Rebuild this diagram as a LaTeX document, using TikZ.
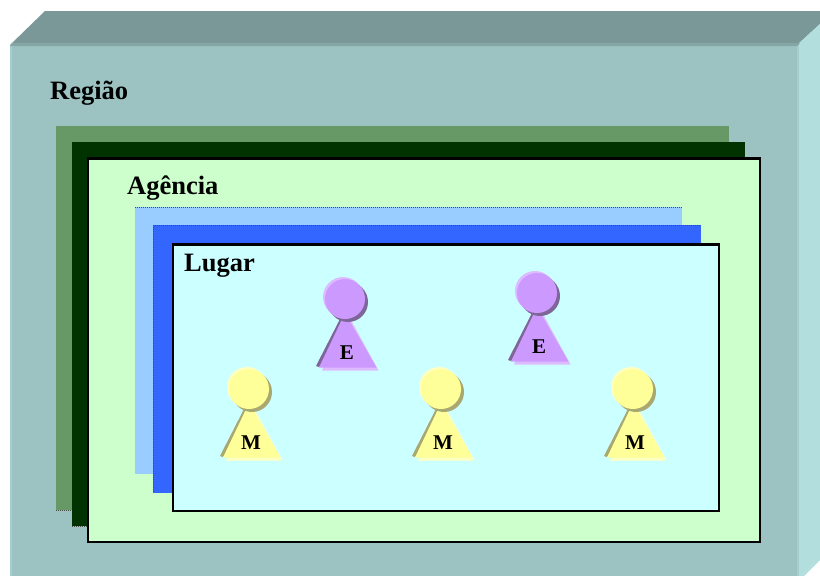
\documentclass[tikz,border=0pt]{standalone}
\usepackage{fontspec}
\setmainfont{Liberation Serif}
\definecolor{front}{HTML}{9CC2C2}
\definecolor{topf}{HTML}{7A9898}
\definecolor{rightf}{HTML}{B3DEDE}
\definecolor{edgeL}{HTML}{A6CECE}
\definecolor{edgeT}{HTML}{86A6A6}
\definecolor{pM}{HTML}{FFFF99}
\definecolor{pMl}{HTML}{FFFFC2}
\definecolor{pMd}{HTML}{A8A870}
\definecolor{pE}{HTML}{CC99FF}
\definecolor{pEl}{HTML}{DDBBFF}
\definecolor{pEd}{HTML}{7F6699}
\definecolor{greenA}{HTML}{669966}
\definecolor{greenB}{HTML}{003300}
\definecolor{greenC}{HTML}{CCFFCC}
\definecolor{blueA}{HTML}{99CCFF}
\definecolor{blueB}{HTML}{3366FF}
\definecolor{blueC}{HTML}{CCFFFF}
\tikzset{
  panel/.style={draw=black,line width=2.3pt,fill=#1},
  dotedge/.style={draw=black!70,line width=1pt,dash pattern=on 1pt off 1pt},
  title/.style={font=\bfseries\fontsize{26.5}{30}\selectfont,text=black,inner sep=0pt,anchor=base west},
  letter/.style={font=\bfseries\fontsize{21}{24}\selectfont,text=black,inner sep=0pt,anchor=base}
}
\newcommand{\person}[6]{%
  \begin{scope}[shift={(#1,#2)}]
    \fill[#6] (2,14) -- (-23,71.5) -- (33.5,71.5) -- cycle;
    \fill[#5] (-5,20) -- (-29,67) -- (-26,68) -- (0,30) -- cycle;
    \fill[#4] (0,14) -- (-26,68.5) -- (31.5,68.5) -- cycle;
    \fill[#6] (-2,-2) circle (20);
    \fill[#5] (3,3) circle (20);
    \fill[#4] (0,0) circle (20);
    \node[letter] at (2,60.5) {#3};
  \end{scope}}
\begin{document}
\begin{tikzpicture}[x=1pt,y=-1pt]
\useasboundingbox (0,0) rectangle (820,576);
\fill[white] (0,0) rectangle (820,576);
% box
\fill[topf] (10,45) -- (45,11) -- (820,11) -- (820,24) -- (797,45) -- cycle;
\fill[rightf] (797,45) -- (820,24) -- (820,560) -- (804,576) -- (797,576) -- cycle;
\fill[front] (10,45) rectangle (797,576);
\fill[edgeL] (10,45) rectangle (12,576);
\fill[edgeL] (797,45) rectangle (799,576);
\fill[edgeT] (12,43) -- (800,43) -- (797,46) -- (10,46) -- cycle;
% agency stack
\fill[greenA] (56,126) rectangle (729,510);
\draw[dotedge] (56,510) -- (72,510);
\fill[greenB] (72,142) rectangle (745,526);
\draw[dotedge] (72,526) -- (88,526);
\path[panel=greenC] (88,158.5) rectangle (760,542);
% place stack
\fill[blueA] (135,207) rectangle (682,473.5);
\draw[dotedge] (135,207) -- (682,207);
\fill[blueB] (153,225) rectangle (701,493);
\draw[dotedge] (153,225) -- (701,225);
\draw[dotedge] (153,225) -- (153,493);
\path[panel=blueC] (173,244.5) rectangle (719,511);
% titles
\node[title] (regiao) at (50,99) {Região};
\node[title] (agencia) at (127,194) {Agência};
\node[title] (lugar) at (184,271) {Lugar};
% people
\person{345}{299}{E}{pE}{pEd}{pEl}
\person{537}{293}{E}{pE}{pEd}{pEl}
\person{249}{389}{M}{pM}{pMd}{pMl}
\person{441}{389}{M}{pM}{pMd}{pMl}
\person{633}{389}{M}{pM}{pMd}{pMl}
\end{tikzpicture}
\end{document}
